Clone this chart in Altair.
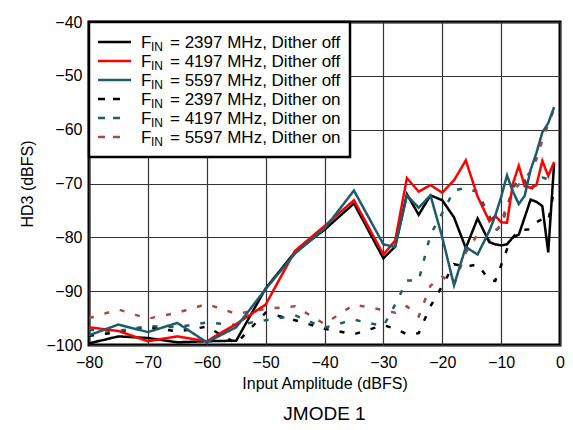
import altair as alt
import pandas as pd

amplitude = [-80, -75, -70, -65, -60, -55, -50, -45, -40, -35, -30, -28, -26, -24, -22, -20,
             -18, -16, -14, -12, -11, -10, -9, -8, -7, -6, -5, -4, -3, -2, -1]

hd3_2397_off = [-99.7, -98.4, -98.7, -99.5, -99.3, -99.2, -89.5, -82.7, -78.6, -73.7, -83.9, -81.7,
                -72.0, -75.8, -72.2, -73.1, -76.3, -82.0, -76.5, -80.9, -81.3, -81.5, -81.3, -80.0,
                -79.5, -76.3, -73.0, -73.4, -74.2, -82.8, -66.3]
hd3_4197_off = [-96.7, -97.4, -99.3, -98.4, -99.3, -96.1, -92.5, -82.5, -77.9, -73.1, -83.2, -80.6,
                -69.0, -71.5, -70.3, -71.7, -69.4, -65.7, -72.4, -77.0, -76.0, -77.2, -77.3, -70.0,
                -66.7, -70.5, -70.8, -70.3, -65.8, -68.6, -66.0]
hd3_5597_off = [-98.2, -96.2, -97.6, -95.9, -99.5, -96.7, -89.6, -83.0, -78.4, -71.3, -81.3, -81.8,
                -72.2, -74.5, -72.2, -80.0, -88.9, -81.8, -83.2, -78.8, -76.0, -72.5, -68.5, -71.5,
                -73.8, -72.3, -67.5, -64.3, -60.5, -58.8, -55.8]
hd3_2397_on = [-98.3, -97.6, -96.6, -97.5, -96.6, -99.7, -94.0, -95.4, -97.0, -98.0, -96.3, -97.0,
               -98.0, -97.8, -92.8, -89.0, -85.0, -85.5, -85.0, -88.0, -88.1, -85.2, -82.2, -80.0,
               -78.7, -78.6, -78.5, -77.2, -76.6, -77.0, -71.2]
hd3_4197_on = [-97.2, -97.4, -96.5, -96.7, -95.8, -96.3, -95.4, -94.5, -96.8, -95.3, -96.5, -92.5,
               -88.0, -88.0, -79.5, -75.5, -71.3, -70.8, -71.6, -76.0, -78.7, -78.0, -74.5, -71.0,
               -69.0, -69.4, -71.5, -69.5, -68.9, -69.2, -69.3]
hd3_5597_on = [-95.0, -93.4, -95.1, -94.0, -92.4, -94.2, -93.3, -92.8, -96.1, -92.5, -93.5, -94.0,
               -92.8, -94.7, -89.0, -87.3, -88.8, -82.8, -79.5, -80.5, -79.0, -77.5, -73.8, -71.5,
               -70.2, -69.1, -67.8, -65.5, -62.0, -59.0, -56.2]

freqs = ["2397", "4197", "5597", "2397", "4197", "5597"]
dithers = ["off", "off", "off", "on", "on", "on"]
series_values = [hd3_2397_off, hd3_4197_off, hd3_5597_off, hd3_2397_on, hd3_4197_on, hd3_5597_on]
colors = ["#000000", "#ff0000", "#1e5b6b", "#000000", "#1e5b6b", "#a34a4a"]

FONT = "Liberation Sans"
W, H = 471, 323

rows = []
for i, vals in enumerate(series_values):
    for a, v in zip(amplitude, vals):
        rows.append({"amp": a, "hd3": v, "sid": i})
df = pd.DataFrame(rows)

x_enc = alt.X("amp:Q", scale=alt.Scale(domain=[-80, 0], nice=False),
              axis=alt.Axis(values=list(range(-80, 1, 10)), title="Input Amplitude (dBFS)",
                            grid=True, ticks=False, domain=False, labelPadding=9,
                            titlePadding=5, labelFlush=False))
y_enc = alt.Y("hd3:Q", scale=alt.Scale(domain=[-100, -40], nice=False),
              axis=alt.Axis(values=list(range(-100, -39, 10)), title="HD3 (dBFS)",
                            grid=True, ticks=False, domain=False, labelPadding=7,
                            titlePadding=10, labelFlush=False))

layers = []
# dither-on (dashed) first, then dither-off solid lines on top
for i in [3, 4, 5, 0, 1, 2]:
    dash = [5, 11] if dithers[i] == "on" else [1, 0]
    layers.append(
        alt.Chart(df).transform_filter(alt.datum.sid == i)
        .mark_line(color=colors[i], strokeWidth=2.5, strokeDash=dash, clip=True)
        .encode(x=x_enc, y=y_enc, order=alt.Order("amp:Q"))
    )

one = pd.DataFrame({"k": [0]})
layers.append(
    alt.Chart(one).mark_rect(fill="white", stroke="black", strokeWidth=2.5)
    .encode(x=alt.value(0), x2=alt.value(261), y=alt.value(0), y2=alt.value(135))
)
for i in range(6):
    cy = 20 + 19 * i
    base_y = 25.6 + 19 * i
    on = dithers[i] == "on"
    layers.append(
        alt.Chart(one).mark_rule(color=colors[i], strokeWidth=2.5,
                                 strokeDash=[7, 8] if on else [1, 0])
        .encode(x=alt.value(9), x2=alt.value(33 if on else 42), y=alt.value(cy))
    )
    layers.append(
        alt.Chart(one).mark_text(text="F", font=FONT, fontSize=17, align="left",
                                 baseline="alphabetic", color="black")
        .encode(x=alt.value(52), y=alt.value(base_y))
    )
    layers.append(
        alt.Chart(one).mark_text(text="IN", font=FONT, fontSize=12, align="left",
                                 baseline="alphabetic", color="black")
        .encode(x=alt.value(62), y=alt.value(base_y + 3))
    )
    layers.append(
        alt.Chart(one).mark_text(text=f"= {freqs[i]} MHz, Dither {dithers[i]}", font=FONT,
                                 fontSize=17, align="left", baseline="alphabetic", color="black")
        .encode(x=alt.value(81), y=alt.value(base_y))
    )

chart = alt.layer(*layers).properties(
    width=W, height=H,
    background="white",
    title=alt.TitleParams("JMODE 1", orient="bottom", anchor="middle", font=FONT,
                          fontSize=19, fontWeight="normal", color="black", offset=14),
    autosize=alt.AutoSizeParams(type="none"),
    padding={"left": 81, "top": 14, "right": 5, "bottom": 84},
).configure_view(stroke="black", strokeWidth=3).configure_axis(
    labelFont=FONT, labelFontSize=16, labelColor="black",
    titleFont=FONT, titleFontSize=16, titleFontWeight="normal", titleColor="black",
    gridColor="#333333", gridWidth=1.2, gridOpacity=1,
)

chart.save("out.html", embed_options={"renderer": "svg", "actions": False})
